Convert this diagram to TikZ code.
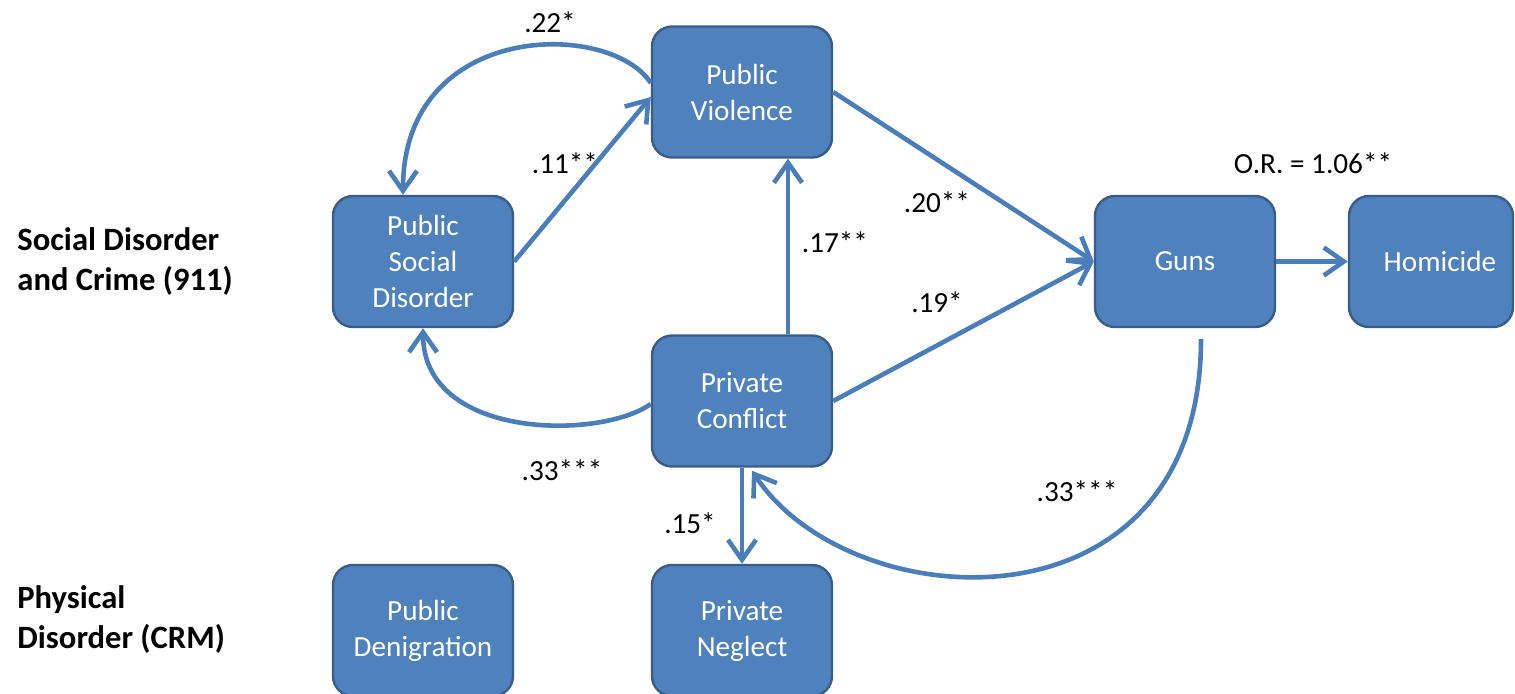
\documentclass[tikz,border=0pt]{standalone}
\usepackage{fontspec}
\setmainfont{Carlito}
\usetikzlibrary{arrows.meta,positioning}
\definecolor{boxfill}{HTML}{4F81BD}
\definecolor{boxline}{HTML}{385D8A}
\definecolor{arrowcol}{HTML}{4A7EBB}
\tikzset{
  varbox/.style={draw=boxline, line width=1.2pt, fill=boxfill, rounded corners=10pt,
    minimum width=90pt, minimum height=65.5pt, inner sep=0pt, align=center,
    text=white, font=\fontsize{14.6pt}{18pt}\selectfont},
  conn/.style={draw=arrowcol, line width=2.3pt,
    -{Straight Barb[length=10pt,width=14pt,line width=2.3pt]}},
  coef/.style={font=\fontsize{14.6pt}{18pt}\selectfont, text=black, inner sep=0pt},
  grouplab/.style={font=\bfseries\fontsize{16.3pt}{20pt}\selectfont, align=left, anchor=west, inner sep=0pt}
}
\begin{document}
\begin{tikzpicture}[x=0.5pt,y=-0.5pt]
\useasboundingbox (0,0) rectangle (1515,693);
% boxes
\node[varbox] (pv) at (742,92) {Public\\Violence};
\node[varbox] (psd) at (423,261.5) {Public\\Social\\Disorder};
\node[varbox] (pc) at (742,401) {Private\\Conflict};
\node[varbox] (guns) at (1185,261.5) {Guns};
\node[varbox, minimum width=82pt] (hom) at (1431,261.5) {\hspace*{9pt}Homicide};
\node[varbox] (pden) at (423,630.5) {Public\\Denigration};
\node[varbox] (pn) at (742,630.5) {Private\\Neglect};
% group labels
\node[grouplab] (g1) at (17,262) {Social Disorder\\and Crime (911)};
\node[grouplab] (g2) at (17,620) {Physical\\Disorder (CRM)};
% connectors
\draw[conn] (psd.east) -- ([yshift=-2.5pt]pv.west);
\draw[conn] ([yshift=4.5pt]pv.west) .. controls (610,20) and (403,20) .. ([xshift=-10pt]psd.north);
\draw[conn] ([xshift=23pt]pc.north) -- ([xshift=23pt]pv.south);
\draw[conn] (pv.east) -- (guns.west);
\draw[conn] (pc.east) -- (guns.west);
\draw[conn] (guns.east) -- (hom.west);
\draw[conn] ([yshift=-1.5pt]pc.west) .. controls (600,440) and (423,440) .. (psd.south);
\draw[conn] ([xshift=8pt,yshift=-5.5pt]guns.south) .. controls (1201,640) and (850,620) .. ([xshift=5pt,yshift=-1.5pt]pc.south);
\draw[conn] (pc.south) -- (pn.north);
% coefficients
\node[coef] (c22) at (550,22) {.22*};
\node[coef] (c11) at (565,163) {.11**};
\node[coef] (c17) at (835,242) {.17**};
\node[coef] (c20) at (937,202) {.20**};
\node[coef] (c19) at (937,302) {.19*};
\node[coef] (cor) at (1313,163) {O.R. = 1.06**};
\node[coef] (c33a) at (562,470) {.33***};
\node[coef] (c33b) at (1077,491) {.33***};
\node[coef] (c15) at (690,523) {.15*};
\end{tikzpicture}
\end{document}
